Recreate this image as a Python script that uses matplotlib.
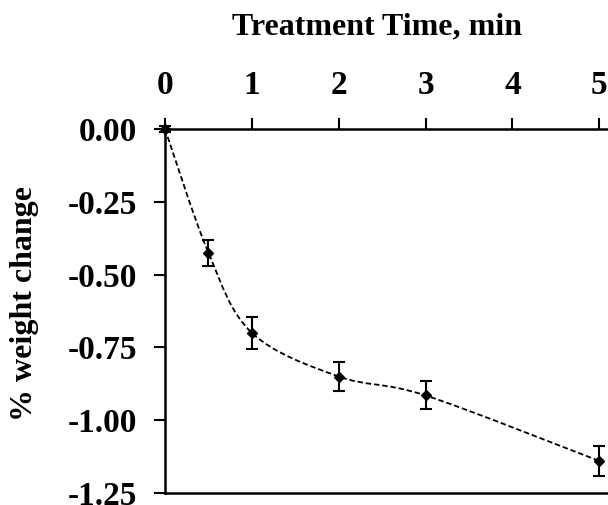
import numpy as np
import matplotlib.pyplot as plt
from matplotlib.path import Path
from matplotlib.patches import PathPatch

# data
time_min = [0, 0.5, 1, 2, 3, 5]
weight_change = [0.0, -0.425, -0.70, -0.85, -0.915, -1.14]
weight_err = [0.01, 0.045, 0.055, 0.05, 0.048, 0.05]
x_ticks = [0, 1, 2, 3, 4, 5]
y_ticks = [0.0, -0.25, -0.5, -0.75, -1.0, -1.25]

plt.rcParams['font.family'] = ['Liberation Serif', 'DejaVu Serif']
plt.rcParams['font.weight'] = 'bold'
plt.rcParams['axes.unicode_minus'] = False

fig = plt.figure(figsize=(6.08, 5.05), dpi=100)
ax = fig.add_axes([165 / 608, 12 / 505, 443 / 608, 364 / 505])

# smoothed line (catmull-rom style bezier, like a spreadsheet "smoothed line")
pts = np.column_stack([time_min, weight_change])
ext = np.vstack([pts[0], pts, pts[-1]])
verts = [tuple(pts[0])]
codes = [Path.MOVETO]
for i in range(len(pts) - 1):
    p0, p1, p2, p3 = ext[i], ext[i + 1], ext[i + 2], ext[i + 3]
    c1 = p1 + (p2 - p0) / 6
    c2 = p2 - (p3 - p1) / 6
    verts += [tuple(c1), tuple(c2), tuple(p2)]
    codes += [Path.CURVE4] * 3
curve = PathPatch(Path(verts, codes), fill=False, edgecolor='black',
                  linewidth=1.3, linestyle=(0, (3, 1.6)), clip_on=False)
ax.add_patch(curve)

ax.errorbar(time_min, weight_change, yerr=weight_err, fmt='D', color='black',
            markersize=5.5, elinewidth=1.5, capsize=4, capthick=1.5,
            clip_on=False, zorder=3)

ax.set_xlim(0, 5.1)
ax.set_ylim(-1.25, 0)

ax.xaxis.tick_top()
ax.set_xticks(x_ticks)
ax.set_xticklabels([str(t) for t in x_ticks])
ax.set_yticks(y_ticks)
ax.set_yticklabels(['%.2f' % v for v in y_ticks])

ax.tick_params(axis='both', direction='out', length=8, width=1.5,
               labelsize=24, pad=12)
ax.tick_params(axis='x', top=True, bottom=False)

for side in ['left', 'top', 'bottom']:
    ax.spines[side].set_linewidth(1.8)
ax.spines['right'].set_visible(False)

ax.set_xlabel('Treatment Time, min', fontsize=23, fontweight='bold')
ax.xaxis.set_label_position('top')
ax.xaxis.label.set_va('center')
ax.xaxis.set_label_coords((377 - 165) / 443, (493 - 27) / 364)

ax.set_ylabel('% weight change', fontsize=23, fontweight='bold')
ax.yaxis.label.set_va('center')
ax.yaxis.set_label_coords(-(165 - 25) / 443, 0.52)

fig.savefig('out.png', dpi=100)
